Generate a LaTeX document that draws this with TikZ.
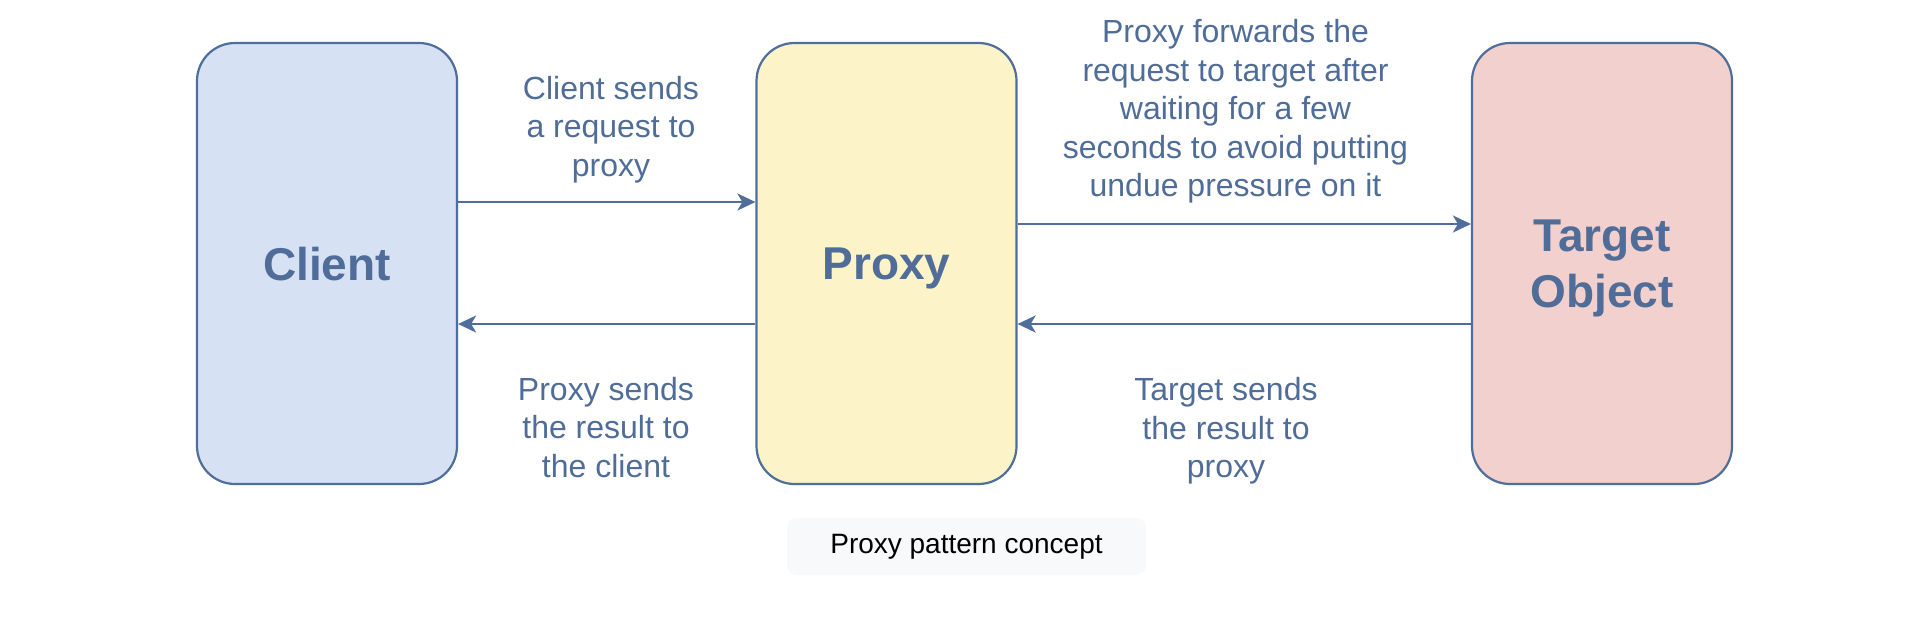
\documentclass[tikz,border=0pt]{standalone}
\usepackage{fontspec}
\setmainfont{Liberation Sans}
\usetikzlibrary{arrows.meta}
\definecolor{strokeblue}{HTML}{4F6E9B}
\definecolor{textblue}{HTML}{4F6D98}
\definecolor{clientfill}{HTML}{D6E2F4}
\definecolor{proxyfill}{HTML}{FDF3C9}
\definecolor{targetfill}{HTML}{F2D0CD}
\definecolor{capfill}{HTML}{F8F9FB}
\tikzset{
  box/.style={draw=strokeblue, line width=1.1pt, rounded corners=19pt,
    minimum width=130pt, minimum height=220.5pt, inner sep=0pt, text depth=0pt,
    text=textblue, align=center, font=\fontsize{23}{27.8}\selectfont\bfseries},
  lbl/.style={text=textblue, align=center, inner sep=0pt,
    font=\fontsize{16}{19.3}\selectfont},
  conn/.style={draw=strokeblue, line width=1.3pt,
    -{Stealth[length=9pt, width=8.5pt, inset=2.5pt]}},
  captionbox/.style={fill=capfill, rounded corners=5pt, minimum width=179.5pt,
    minimum height=28.5pt, inner sep=0pt, font=\fontsize{14}{17}\selectfont}
}
\begin{document}
\begin{tikzpicture}[x=0.5pt, y=-0.5pt]
\useasboundingbox[fill=white] (0,0) rectangle (1922,618);
\node[box, fill=clientfill] (client) at (327,263.5) {Client};
\node[box, fill=proxyfill] (proxy) at (886.5,263.5) {Proxy};
\node[box, fill=targetfill] (target) at (1602,263.5) {Target\\Object};

\draw[conn] ([yshift=30.75pt]client.east) -- ([yshift=30.75pt]proxy.west);
\draw[conn] ([yshift=-30.25pt]proxy.west) -- ([yshift=-30.25pt]client.east);
\draw[conn] ([yshift=19.75pt]proxy.east) -- ([yshift=19.75pt]target.west);
\draw[conn] ([yshift=-30.25pt]target.west) -- ([yshift=-30.25pt]proxy.east);

\node[lbl] (l1) at (611,129.4) {Client sends\\a request to\\proxy};
\node[lbl] (l2) at (1235.5,111.5) {Proxy forwards the\\request to target after\\waiting for a few\\seconds to avoid putting\\undue pressure on it};
\node[lbl] (l3) at (606,427.5) {Proxy sends\\the result to\\the client};
\node[lbl] (l4) at (1226,431) {Target sends\\the result to\\proxy};

\node[captionbox] (caption) at (966.5,546.5) {Proxy pattern concept};
\end{tikzpicture}
\end{document}
